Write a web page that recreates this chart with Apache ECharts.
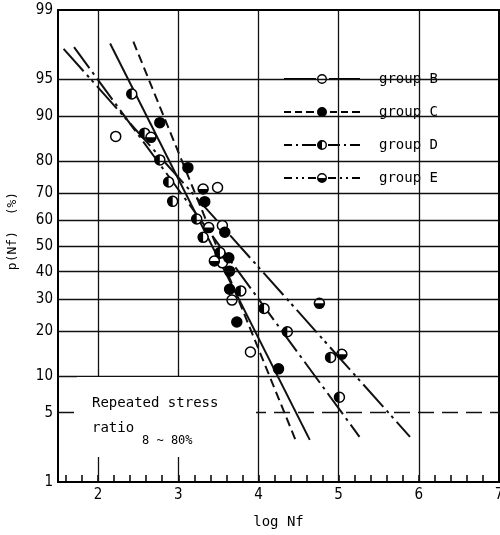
<!DOCTYPE html>
<html>
<head>
<meta charset="utf-8">
<script src="https://cdn.jsdelivr.net/npm/echarts@6/dist/echarts.min.js"></script>
<style>
  html, body { margin: 0; padding: 0; background: #fff; }
  #chart { width: 500px; height: 535px; }
</style>
</head>
<body>
<div id="chart"></div>
<script>
// ---- axis ticks ----
const probTicks = [1, 5, 10, 20, 30, 40, 50, 60, 70, 80, 90, 95, 99];   // failure probability (%)
const probGrid = [10, 20, 30, 40, 50, 60, 70, 80, 90, 95];
const probGridDashed = [5];
const logTicks = [2, 3, 4, 5, 6, 7];
const logGrid = [2, 3, 4, 5, 6];
const logMinorTicks = [1.6, 1.8, 2.0, 2.2, 2.4, 2.6, 2.8, 3.0, 3.2, 3.4, 3.6, 3.8, 4.0, 4.2, 4.4,
                       4.6, 4.8, 5.0, 5.2, 5.4, 5.6, 5.8, 6.0, 6.2, 6.4, 6.6, 6.8];

// ---- test results: log Nf and cumulative failure probability (%) ----
const groupB_logN = [2.22, 3.49, 3.55, 3.55, 3.67, 3.90];
const groupB_p    = [86.0, 71.8, 58.0, 43.4, 29.7, 14.8];

const groupC_logN = [2.77, 3.12, 3.33, 3.58, 3.63, 3.64, 3.64, 3.73, 4.25];
const groupC_p    = [88.8, 78.0, 66.9, 55.4, 45.4, 40.2, 33.5, 22.7, 11.3];

const groupD_logN = [2.42, 2.58, 2.77, 2.88, 2.93, 3.23, 3.31, 3.52, 3.78, 4.07, 4.36, 4.90, 5.01];
const groupD_p    = [93.3, 86.7, 80.2, 73.6, 67.0, 60.5, 53.4, 47.4, 32.9, 26.9, 19.9, 13.6, 6.8];

const groupE_logN = [2.66, 3.31, 3.38, 3.45, 4.76, 5.04];
const groupE_p    = [85.8, 71.3, 57.2, 44.1, 28.6, 14.3];

// ---- fitted lines (end points) ----
const fitB_logN = [2.15, 4.64];  const fitB_p = [97.7, 2.8];
const fitC_logN = [2.44, 4.47];  const fitC_p = [97.8, 2.7];
const fitD_logN = [1.70, 5.26];  const fitD_p = [97.5, 3.0];
const fitE_logN = [1.57, 5.89];  const fitE_p = [97.4, 3.0];

// inverse standard normal CDF (Acklam) -> normal probability scale
function probit(p) {
  const a = [-3.969683028665376e+01, 2.209460984245205e+02, -2.759285104469687e+02,
             1.383577518672690e+02, -3.066479806614716e+01, 2.506628277459239e+00];
  const b = [-5.447609879822406e+01, 1.615858368580409e+02, -1.556989798598866e+02,
             6.680131188771972e+01, -1.328068155288572e+01];
  const c = [-7.784894002430293e-03, -3.223964580411365e-01, -2.400758277161838e+00,
             -2.549671750163644e+00, 4.374664141464968e+00, 2.938163982698783e+00];
  const d = [7.784695709041462e-03, 3.224671290700398e-01, 2.445134137142996e+00,
             3.754408661907416e+00];
  const pl = 0.02425;
  let q, r;
  if (p < pl) {
    q = Math.sqrt(-2 * Math.log(p));
    return (((((c[0]*q+c[1])*q+c[2])*q+c[3])*q+c[4])*q+c[5]) / ((((d[0]*q+d[1])*q+d[2])*q+d[3])*q+1);
  }
  if (p > 1 - pl) {
    q = Math.sqrt(-2 * Math.log(1 - p));
    return -(((((c[0]*q+c[1])*q+c[2])*q+c[3])*q+c[4])*q+c[5]) / ((((d[0]*q+d[1])*q+d[2])*q+d[3])*q+1);
  }
  q = p - 0.5; r = q * q;
  return (((((a[0]*r+a[1])*r+a[2])*r+a[3])*r+a[4])*r+a[5])*q / (((((b[0]*r+b[1])*r+b[2])*r+b[3])*r+b[4])*r+1);
}
const zOf = pct => probit(pct / 100);
const toPoints = (xs, ps) => xs.map((x, i) => [x, zOf(ps[i])]);

function probLabel(v) {
  let best = probTicks[0], bestD = Infinity;
  probTicks.forEach(t => { const dd = Math.abs(zOf(t) - v); if (dd < bestD) { bestD = dd; best = t; } });
  return String(best);
}

const MONO = "'DejaVu Sans Mono', monospace";
const NUM = "'DejaVu Sans Condensed', 'DejaVu Sans', sans-serif";
const INK = '#111';

// legend glyphs: line pattern with the group marker in the middle (one filled path each)
const ring = 'M33 5A5 5 0 1 0 43 5A5 5 0 1 0 33 5Z M34.4 5A3.6 3.6 0 1 1 41.6 5A3.6 3.6 0 1 1 34.4 5Z';
const disc = 'M33 5A5 5 0 1 0 43 5A5 5 0 1 0 33 5Z';
const seg = (x0, x1) => `M${x0} 4H${x1}V6H${x0}Z`;
const legendIcons = {
  'group B': 'path://' + seg(0, 32) + ring + seg(45, 76),
  'group C': 'path://' + seg(0, 7) + seg(11, 18) + seg(22, 30) + disc + seg(46, 53) + seg(57, 64) + seg(68, 76),
  'group D': 'path://' + seg(0, 8) + seg(12, 14) + seg(18, 32) + ring + 'M38 0A5 5 0 0 0 38 10Z' + seg(44, 56) + seg(60, 62) + seg(66, 76),
  'group E': 'path://' + seg(0, 8) + seg(12, 14) + seg(18, 20) + seg(24, 32) + ring + 'M33 5A5 5 0 0 0 43 5Z' + seg(44, 52) + seg(56, 58) + seg(62, 64) + seg(68, 76)
};

const groupNames = ['group B', 'group C', 'group D', 'group E'];

function fitLine(name, xs, ps, type) {
  return {
    type: 'line', name, data: toPoints(xs, ps), symbol: 'none', silent: true, z: 3,
    itemStyle: { color: '#000' },
    lineStyle: { color: INK, width: 2, type }
  };
}
function marks(name, xs, ps, fill) {
  return {
    type: 'scatter', name, data: toPoints(xs, ps), symbol: 'circle', symbolSize: 10, z: 4,
    itemStyle: { color: fill, borderColor: '#000', borderWidth: 1.5, opacity: 1 }
  };
}
function halves(name, xs, ps, path, size, offset) {
  return {
    type: 'scatter', name, data: toPoints(xs, ps), symbol: path, symbolSize: size,
    symbolOffset: offset, z: 5,
    itemStyle: { color: '#000', borderWidth: 0, opacity: 1 }
  };
}

const chart = echarts.init(document.getElementById('chart'), null, { renderer: 'canvas' });
chart.setOption({
  animation: false,
  backgroundColor: '#fff',
  grid: {
    left: 58, right: 1, top: 10, bottom: 53,
    outerBoundsMode: 'none', containLabel: false,
    show: true, borderColor: '#000', borderWidth: 2, backgroundColor: 'transparent'
  },
  xAxis: {
    type: 'value', min: 1.5, max: 7,
    name: 'log Nf', nameLocation: 'middle', nameGap: 33,
    nameTextStyle: { fontFamily: MONO, fontSize: 14, color: '#000' },
    axisLine: { show: false, onZero: false },
    splitLine: { show: false },
    axisTick: { show: true, inside: true, length: 7, customValues: logMinorTicks,
                lineStyle: { color: '#000', width: 1.5 } },
    axisLabel: { customValues: logTicks, fontFamily: NUM, fontSize: 15, color: '#000', margin: 6 }
  },
  yAxis: {
    type: 'value', min: zOf(1), max: zOf(99),
    axisLine: { show: false, onZero: false },
    axisTick: { show: false },
    splitLine: { show: false },
    axisLabel: { customValues: probTicks.map(zOf), formatter: probLabel,
                 fontFamily: NUM, fontSize: 15, color: '#000', margin: 5 }
  },
  legend: {
    orient: 'vertical', left: 259, top: 54,
    padding: [18, 24, 16, 25], itemGap: 19,
    itemWidth: 76, itemHeight: 10,
    backgroundColor: '#fff', selectedMode: false,
    textStyle: { fontFamily: MONO, fontSize: 14, color: '#000', padding: [0, 0, 0, 14] },
    data: groupNames.map(n => ({
      name: n, icon: legendIcons[n],
      itemStyle: { color: '#000', borderWidth: 0 }, lineStyle: { width: 0 }
    }))
  },
  graphic: [
    { type: 'rect', z: 10, shape: { x: 77, y: 377, width: 179, height: 80 }, style: { fill: '#fff' } },
    { type: 'text', z: 11, x: 92, y: 403,
      style: { text: 'Repeated stress', fontFamily: MONO, fontSize: 14, fill: '#000', verticalAlign: 'middle' } },
    { type: 'text', z: 11, x: 92, y: 428,
      style: { text: 'ratio', fontFamily: MONO, fontSize: 14, fill: '#000', verticalAlign: 'middle' } },
    { type: 'text', z: 11, x: 142, y: 441,
      style: { text: '8 ~ 80%', fontFamily: MONO, fontSize: 12, fill: '#000', verticalAlign: 'middle' } },
    { type: 'text', z: 11, x: 13, y: 231, rotation: Math.PI / 2,
      style: { text: 'p(Nf)  (%)', fontFamily: MONO, fontSize: 13, fill: '#000',
               align: 'center', verticalAlign: 'middle' } }
  ],
  series: [
    {
      type: 'scatter', data: [], silent: true, z: 1,
      markLine: {
        silent: true, symbol: ['none', 'none'], label: { show: false },
        emphasis: { disabled: true },
        lineStyle: { color: INK, width: 1.3, type: 'solid' },
        data: [
          ...logGrid.map(v => ({ xAxis: v })),
          ...probGrid.map(p => ({ yAxis: zOf(p) })),
          ...probGridDashed.map(p => ({ yAxis: zOf(p), lineStyle: { type: [16, 8], color: INK, width: 1.3 } }))
        ]
      }
    },
    fitLine('group B', fitB_logN, fitB_p, 'solid'),
    fitLine('group C', fitC_logN, fitC_p, [9, 5]),
    fitLine('group D', fitD_logN, fitD_p, [26, 5, 3, 5]),
    fitLine('group E', fitE_logN, fitE_p, [30, 5, 3, 4, 3, 5]),
    marks('group B', groupB_logN, groupB_p, '#fff'),
    marks('group C', groupC_logN, groupC_p, '#000'),
    marks('group D', groupD_logN, groupD_p, '#fff'),
    halves('group D', groupD_logN, groupD_p, 'path://M5 0A5 5 0 0 0 5 10Z', [5, 10], [-2.5, 0]),
    marks('group E', groupE_logN, groupE_p, '#fff'),
    halves('group E', groupE_logN, groupE_p, 'path://M0 0A5 5 0 0 0 10 0Z', [10, 5], [0, 2.5])
  ]
});
</script>
</body>
</html>
